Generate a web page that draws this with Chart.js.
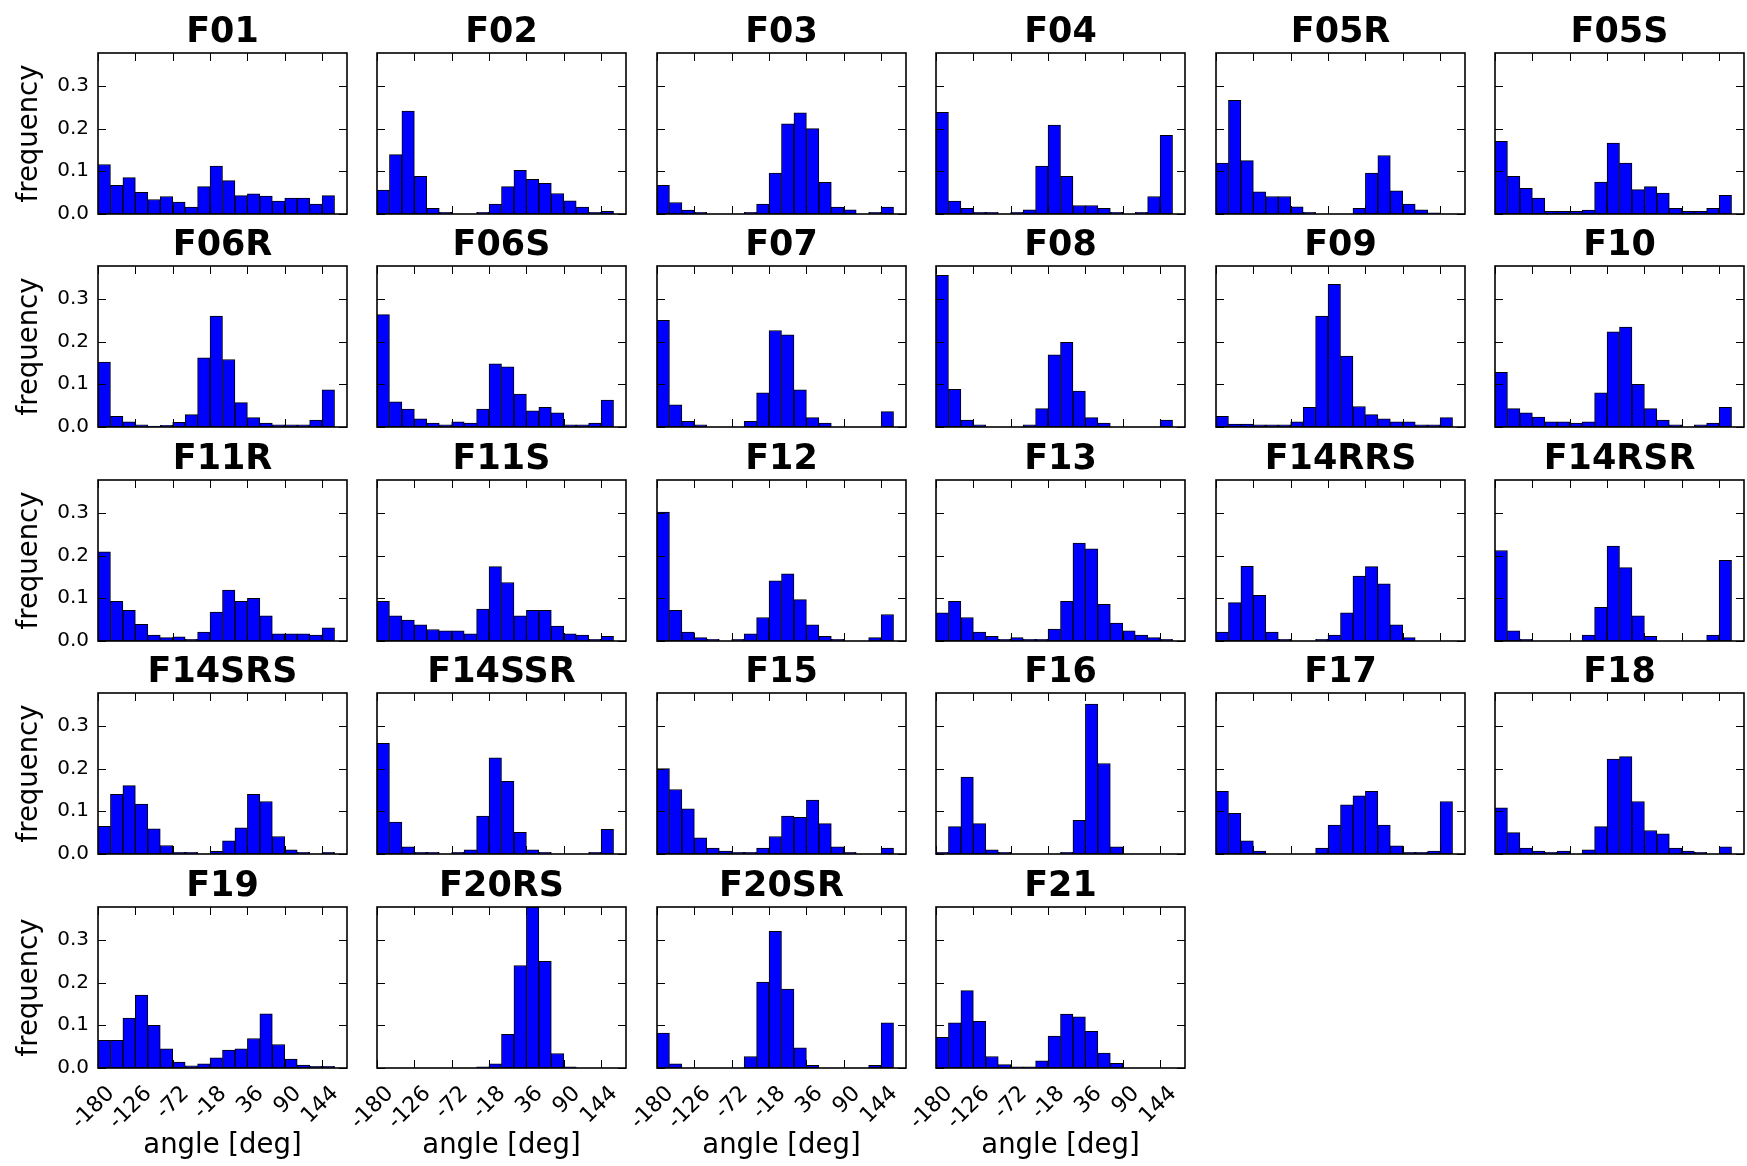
<!DOCTYPE html>
<html>
<head>
<meta charset="utf-8">
<script src="https://cdn.jsdelivr.net/npm/chart.js@4.4.1/dist/chart.umd.min.js"></script>
<style>
  html, body { margin: 0; padding: 0; background: #fff; overflow: hidden; }
  #grid { position: relative; width: 1747px; height: 1166px; }
  #grid canvas { position: absolute; }
</style>
</head>
<body>
<div id="grid"></div>
<script>
// histogram bins are 18 deg wide, the last bin [162,180) is always empty
const binCenters = [-171, -153, -135, -117, -99, -81, -63, -45, -27, -9, 9, 27, 45, 63, 81, 99, 117, 135, 153];
const xTicks = [-180, -126, -72, -18, 36, 90, 144];
const xTickLabels = ['-180', '-126', '-72', '-18', '36', '90', '144'];
const yTicks = [0, 0.1, 0.2, 0.3];
const yTickLabels = ['0.0', '0.1', '0.2', '0.3'];
const yMax = 0.377;

const F01 = [0.116, 0.067, 0.085, 0.051, 0.034, 0.041, 0.028, 0.016, 0.064, 0.112, 0.078, 0.043, 0.047, 0.042, 0.030, 0.037, 0.037, 0.023, 0.043];
const F02 = [0.056, 0.139, 0.241, 0.088, 0.013, 0.004, 0, 0, 0.004, 0.023, 0.064, 0.102, 0.081, 0.072, 0.048, 0.031, 0.016, 0.004, 0.006];
const F03 = [0.067, 0.027, 0.009, 0.004, 0, 0, 0, 0.004, 0.023, 0.096, 0.211, 0.237, 0.200, 0.074, 0.016, 0.010, 0, 0.004, 0.016];
const F04 = [0.238, 0.030, 0.013, 0.004, 0.004, 0, 0.004, 0.010, 0.112, 0.208, 0.088, 0.020, 0.020, 0.013, 0.004, 0, 0.004, 0.041, 0.184];
const F05R = [0.119, 0.266, 0.125, 0.052, 0.041, 0.041, 0.017, 0.004, 0, 0, 0, 0.013, 0.096, 0.137, 0.054, 0.023, 0.010, 0.003, 0];
const F05S = [0.170, 0.088, 0.060, 0.037, 0.006, 0.006, 0.006, 0.009, 0.075, 0.166, 0.119, 0.057, 0.064, 0.049, 0.013, 0.006, 0.006, 0.013, 0.044];
const F06R = [0.152, 0.025, 0.012, 0.005, 0.002, 0.004, 0.011, 0.029, 0.162, 0.260, 0.158, 0.057, 0.022, 0.009, 0.005, 0.005, 0.005, 0.016, 0.087];
const F06S = [0.263, 0.059, 0.042, 0.019, 0.009, 0.005, 0.012, 0.009, 0.042, 0.148, 0.141, 0.077, 0.038, 0.046, 0.033, 0.005, 0.005, 0.009, 0.063];
const F07 = [0.250, 0.052, 0.013, 0.005, 0, 0, 0, 0.013, 0.080, 0.226, 0.216, 0.087, 0.022, 0.009, 0, 0, 0, 0, 0.036];
const F08 = [0.355, 0.088, 0.016, 0.005, 0, 0, 0, 0.005, 0.043, 0.169, 0.198, 0.084, 0.022, 0.009, 0, 0, 0, 0, 0.016];
const F09 = [0.025, 0.007, 0.007, 0.005, 0.005, 0.005, 0.012, 0.046, 0.260, 0.334, 0.166, 0.048, 0.029, 0.019, 0.012, 0.012, 0.005, 0.005, 0.022];
const F10 = [0.128, 0.043, 0.033, 0.023, 0.012, 0.012, 0.009, 0.012, 0.080, 0.223, 0.234, 0.100, 0.043, 0.016, 0.005, 0, 0.005, 0.009, 0.046];
const F11R = [0.209, 0.093, 0.072, 0.039, 0.014, 0.008, 0.010, 0.004, 0.021, 0.068, 0.119, 0.093, 0.100, 0.059, 0.017, 0.017, 0.017, 0.014, 0.031];
const F11S = [0.093, 0.059, 0.049, 0.038, 0.027, 0.024, 0.024, 0.017, 0.075, 0.174, 0.137, 0.059, 0.072, 0.072, 0.035, 0.017, 0.014, 0.004, 0.011];
const F12 = [0.302, 0.072, 0.021, 0.008, 0.004, 0, 0.004, 0.017, 0.055, 0.141, 0.157, 0.097, 0.038, 0.011, 0.004, 0, 0, 0.008, 0.062];
const F13 = [0.066, 0.093, 0.055, 0.021, 0.011, 0.004, 0.008, 0.004, 0.004, 0.028, 0.093, 0.229, 0.216, 0.086, 0.042, 0.024, 0.014, 0.008, 0.004];
const F14RRS = [0.021, 0.090, 0.175, 0.107, 0.021, 0.004, 0, 0, 0.004, 0.014, 0.066, 0.152, 0.174, 0.134, 0.038, 0.008, 0, 0, 0];
const F14RSR = [0.212, 0.024, 0.004, 0, 0, 0, 0, 0.014, 0.079, 0.222, 0.172, 0.059, 0.011, 0, 0, 0, 0, 0.014, 0.189];
const F14SRS = [0.065, 0.140, 0.160, 0.117, 0.059, 0.020, 0.004, 0.004, 0, 0.006, 0.031, 0.061, 0.140, 0.123, 0.041, 0.010, 0.004, 0, 0.004];
const F14SSR = [0.259, 0.075, 0.017, 0.004, 0.004, 0, 0.004, 0.010, 0.089, 0.225, 0.170, 0.051, 0.010, 0.004, 0, 0, 0, 0.004, 0.058];
const F15 = [0.200, 0.151, 0.106, 0.038, 0.014, 0.007, 0.004, 0.004, 0.014, 0.041, 0.089, 0.086, 0.126, 0.071, 0.017, 0.004, 0, 0, 0.014];
const F16 = [0.004, 0.064, 0.180, 0.071, 0.010, 0.004, 0, 0, 0, 0, 0.004, 0.079, 0.351, 0.212, 0.017, 0, 0, 0, 0];
const F17 = [0.147, 0.095, 0.031, 0.007, 0, 0, 0, 0, 0.014, 0.068, 0.115, 0.136, 0.147, 0.068, 0.019, 0.004, 0.004, 0.007, 0.123];
const F18 = [0.108, 0.050, 0.014, 0.007, 0.004, 0.007, 0, 0.010, 0.064, 0.222, 0.228, 0.123, 0.055, 0.047, 0.014, 0.007, 0.004, 0, 0.017];
const F19 = [0.065, 0.065, 0.117, 0.171, 0.100, 0.045, 0.014, 0.005, 0.010, 0.024, 0.042, 0.045, 0.069, 0.127, 0.055, 0.021, 0.007, 0.004, 0.004];
const F20RS = [0, 0, 0, 0, 0, 0, 0, 0, 0.003, 0.010, 0.079, 0.240, 0.377, 0.250, 0.034, 0.003, 0, 0, 0];
const F20SR = [0.082, 0.010, 0, 0, 0, 0, 0, 0.027, 0.201, 0.320, 0.185, 0.047, 0.006, 0, 0, 0, 0, 0.006, 0.106];
const F21 = [0.072, 0.106, 0.181, 0.109, 0.027, 0.008, 0.003, 0.003, 0.017, 0.075, 0.126, 0.120, 0.086, 0.035, 0.011, 0, 0, 0, 0];

const titles = ['F01', 'F02', 'F03', 'F04', 'F05R', 'F05S',
  'F06R', 'F06S', 'F07', 'F08', 'F09', 'F10',
  'F11R', 'F11S', 'F12', 'F13', 'F14RRS', 'F14RSR',
  'F14SRS', 'F14SSR', 'F15', 'F16', 'F17', 'F18',
  'F19', 'F20RS', 'F20SR', 'F21'];
const series = [F01, F02, F03, F04, F05R, F05S,
  F06R, F06S, F07, F08, F09, F10,
  F11R, F11S, F12, F13, F14RRS, F14RSR,
  F14SRS, F14SSR, F15, F16, F17, F18,
  F19, F20RS, F20SR, F21];

// page layout (pixels)
const colLeft = [98, 377, 657, 936, 1216, 1495];
const rowTop = [53, 266, 480, 693, 907];
const plotW = 249, plotH = 161;
const titleH = 40;
const FONT = "'DejaVu Sans', sans-serif";

// inward ticks on all four sides plus the black frame (matplotlib classic look)
const frameTicks = {
  id: 'frameTicks',
  afterDatasetsDraw(chart) {
    const {ctx, chartArea: a} = chart;
    const xs = chart.scales.x, ys = chart.scales.y;
    ctx.save();
    ctx.strokeStyle = '#000';
    ctx.lineWidth = 1;
    ctx.beginPath();
    xTicks.forEach(v => {
      const px = Math.round(xs.getPixelForValue(v)) + 0.5;
      ctx.moveTo(px, a.top); ctx.lineTo(px, a.top + 8);
      ctx.moveTo(px, a.bottom); ctx.lineTo(px, a.bottom - 8);
    });
    yTicks.forEach(v => {
      const py = Math.round(ys.getPixelForValue(v)) + 0.5;
      ctx.moveTo(a.left, py); ctx.lineTo(a.left + 8, py);
      ctx.moveTo(a.right, py); ctx.lineTo(a.right - 8, py);
    });
    ctx.stroke();
    ctx.lineWidth = 1.6;
    ctx.strokeRect(a.left, a.top, a.right - a.left, a.bottom - a.top);
    ctx.restore();
  }
};

const grid = document.getElementById('grid');

titles.forEach((name, i) => {
  const r = Math.floor(i / 6), c = i % 6;
  const firstCol = c === 0;
  const lastRow = r === 4;
  const side = firstCol ? colLeft[0] : (lastRow ? 40 : 3);
  const padB = lastRow ? 96 : (firstCol ? 14 : 3);

  const canvas = document.createElement('canvas');
  canvas.width = side * 2 + plotW;
  canvas.height = titleH + plotH + padB;
  canvas.style.left = (colLeft[c] - side) + 'px';
  canvas.style.top = (rowTop[r] - titleH) + 'px';
  grid.appendChild(canvas);

  const values = series[i];
  new Chart(canvas, {
    type: 'bar',
    data: {
      datasets: [{
        data: binCenters.map((x, k) => ({ x: x, y: values[k] })),
        backgroundColor: '#0000ff',
        borderColor: '#000000',
        borderWidth: 1,
        borderSkipped: false,
        barPercentage: 1,
        categoryPercentage: 1
      }]
    },
    options: {
      responsive: false,
      animation: false,
      devicePixelRatio: 1,
      layout: { padding: { left: 0, right: side, top: 0, bottom: 0 } },
      plugins: {
        legend: { display: false },
        tooltip: { enabled: false },
        title: {
          display: true,
          fullSize: false,   // centre over the plot area, not the whole canvas
          text: name,
          color: '#000',
          font: { family: FONT, size: 35, weight: 'bold', lineHeight: titleH / 35 },
          padding: 0
        }
      },
      scales: {
        x: {
          type: 'linear',
          min: -180,
          max: 180,
          offset: false,
          grid: { display: false, drawTicks: false },
          border: { display: false },
          afterBuildTicks: s => { s.ticks = xTicks.map(v => ({ value: v })); },
          afterFit: s => { s.height = padB; s.paddingLeft = 0; s.paddingRight = 0; },
          ticks: {
            display: lastRow,
            autoSkip: false,
            minRotation: 45,
            maxRotation: 45,
            padding: 13,
            labelOffset: 13,
            color: '#000',
            font: { family: FONT, size: 22 },
            callback: (v, k) => xTickLabels[k]
          },
          title: {
            display: lastRow,
            text: 'angle [deg]',
            color: '#000',
            font: { family: FONT, size: 27.5 },
            padding: { top: 0, bottom: 2 }
          }
        },
        y: {
          min: 0,
          max: yMax,
          grid: { display: false, drawTicks: false },
          border: { display: false },
          afterBuildTicks: s => { s.ticks = yTicks.map(v => ({ value: v })); },
          afterFit: s => { s.width = side; s.paddingTop = 0; s.paddingBottom = 0; },
          ticks: {
            display: firstCol,
            padding: 9,
            color: '#000',
            font: { family: FONT, size: 20 },
            callback: (v, k) => yTickLabels[k]
          },
          title: {
            display: firstCol,
            text: 'frequency',
            color: '#000',
            font: { family: FONT, size: 27.5 },
            padding: { top: 13, bottom: 0 }
          }
        }
      }
    },
    plugins: [frameTicks]
  });
});
</script>
</body>
</html>
